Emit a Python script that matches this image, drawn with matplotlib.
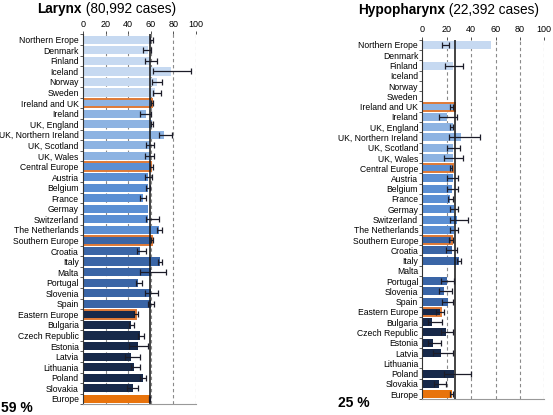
import matplotlib
matplotlib.use("Agg")
import matplotlib.pyplot as plt
import numpy as np

plt.rcParams["font.family"] = ["Liberation Sans", "DejaVu Sans"]

nan = np.nan

countries = [
    "Northern Erope", "Denmark", "Finland", "Iceland", "Norway", "Sweden",
    "Ireland and UK", "Ireland", "UK, England", "UK, Northern Ireland",
    "UK, Scotland", "UK, Wales",
    "Central Europe", "Austria", "Belgium", "France", "Germay",
    "Switzerland", "The Netherlands",
    "Southern Europe", "Croatia", "Italy", "Malta", "Portugal", "Slovenia", "Spain",
    "Eastern Europe", "Bulgaria", "Czech Republic", "Estonia", "Latvia",
    "Lithuania", "Poland", "Slovakia",
    "Europe",
]
# 0 north, 1 ireland/uk, 2 central, 3 south, 4 east, 5 europe
group = [0] * 6 + [1] * 6 + [2] * 7 + [3] * 7 + [4] * 8 + [5]
is_region = ["Europe" in c or c == "Ireland and UK" for c in countries]

# Larynx: survival (%), lower and upper CI
lar_val = [60.5, 58, 59, 78, 66, 64,
           61, 55.5, 61.5, 72, 59, 59,
           60.5, 58, 57.5, 53, 57.5, 58, 67.5,
           61.5, 51, 68, 60, 49, 60, 60,
           47, 42.5, 50.5, 49, 43, 45, 53, 44,
           59]
lar_lo = [59, 53, 55, 62, 61, 62,
          60, 51, 60.5, 67, 56, 55,
          59.5, 55, 55.5, 50.5, nan, 56, 66,
          60.5, 48, 66.5, 51, 47, 55, 57.5,
          45.5, 41, 48.5, 41, 37, 42.5, 51, 39,
          58.5]
lar_hi = [62, 60, 66, 96, 70, 69,
          62.5, 60, 62.5, 79, 63, 63,
          62, 61, 59, 55.5, nan, 67, 70,
          62.5, 55.5, 70, 74, 52, 66.5, 63,
          48.5, 45.5, 54, 58, 51, 50.5, 56, 48.5,
          59.5]

# Hypopharynx
hyp_val = [56, nan, 25, nan, nan, nan,
           26.5, 20, 25, 32, 25, 25,
           25.5, 25, 24, 22.5, 26, 28.5, 26,
           24, 24, 30, nan, 20, 18, 21,
           15, 8, 19.5, 8.5, 15.5, nan, 26, 13.5,
           24]
hyp_lo = [16, nan, 18.5, nan, nan, nan,
          23, 14, 23, 22, 20.5, 18,
          22.5, 20.5, 20.5, 21, 23, 22.5, 23,
          21.5, 19.5, 28.5, nan, 15, 14, 16.5,
          11.5, 4.5, 15, 4.5, 9, nan, 18, 9.5,
          22.5]
hyp_hi = [22, nan, 33.5, nan, nan, nan,
          25.5, 28.5, 25.5, 47, 30.5, 33.5,
          24.5, 29, 29, 25, 29, 37.5, 29,
          25, 28.5, 32, nan, 26, 24, 25.5,
          18, 16, 25.5, 15.5, 25.5, nan, 40, 19.5,
          25.5]

panels = [
    ("Larynx", "(80,992 cases)", "59 %", 59, lar_val, lar_lo, lar_hi),
    ("Hypopharynx", "(22,392 cases)", "25 %", 26.5, hyp_val, hyp_lo, hyp_hi),
]

group_colors = ["#c6d9f1", "#8db3e2", "#5b8fd3", "#3a65a6", "#17294a", "#e8730c"]
edge_orange = "#e07a36"

fig = plt.figure(figsize=(5.53, 4.15), dpi=100)
axes_pos = [[0.150, 0.026, 0.204, 0.891], [0.7637, 0.038, 0.2206, 0.866]]
title_pos = [(0.067, 0.996), (0.647, 0.993)]
pct_pos = [(0.002, 0.0), (0.612, 0.012)]

for k, (name, cases, pct, line_x, vals, lo, hi) in enumerate(panels):
    ax = fig.add_axes(axes_pos[k])
    y = np.arange(len(countries))
    vals = np.array(vals, dtype=float)
    lo = np.array(lo, dtype=float)
    hi = np.array(hi, dtype=float)

    colors = [group_colors[g] for g in group]
    edges = [edge_orange if r and g != 5 else "none" for r, g in zip(is_region, group)]
    ax.barh(y, np.nan_to_num(vals), height=0.78, color=colors,
            edgecolor=edges, linewidth=1.4, zorder=2)

    ok = ~np.isnan(lo)
    ax.errorbar((lo[ok] + hi[ok]) / 2, y[ok], xerr=(hi[ok] - lo[ok]) / 2,
                fmt="none", ecolor="#1c1c28", elinewidth=0.9, capsize=2.0,
                capthick=0.9, zorder=4)
    ax.axvline(line_x, color="#111111", lw=1.1, zorder=3)

    for gx in [20, 40, 60, 80, 100]:
        ax.axvline(gx, color="#8a8a8a", lw=0.8, ls=(0, (3, 2.5)), zorder=1)

    ax.set_xlim(0, 100)
    ax.set_ylim(len(countries) - 0.5, -0.5)
    ax.set_xticks([0, 20, 40, 60, 80, 100])
    ax.xaxis.tick_top()
    ax.tick_params(axis="x", top=True, bottom=False, labelsize=6.5, length=2.5,
                   width=0.6, pad=1.5, colors="#333333", labelcolor="black")
    ax.set_yticks(y)
    ax.set_yticklabels(countries)
    ax.tick_params(axis="y", which="major", length=0, labelsize=6.2, pad=3)
    ax.set_yticks(np.arange(len(countries) + 1) - 0.5, minor=True)
    ax.tick_params(axis="y", which="minor", length=2.5, width=0.6, color="#444444")

    for s in ["top", "right"]:
        ax.spines[s].set_visible(False)
    ax.spines["left"].set_color("#333333")
    ax.spines["left"].set_linewidth(0.8)
    ax.spines["bottom"].set_color("#999999")
    ax.spines["bottom"].set_linewidth(0.8)

    # title: bold name followed by normal case count
    t1 = fig.text(title_pos[k][0], title_pos[k][1], name, fontsize=9.8,
                  fontweight="bold", va="top", ha="left")
    ax.annotate(" " + cases, xy=(1, 0), xycoords=t1, fontsize=9.8,
                va="bottom", ha="left", annotation_clip=False)

    fig.text(pct_pos[k][0], pct_pos[k][1], pct, fontsize=10,
             fontweight="bold", va="bottom", ha="left")

fig.savefig("out.png", dpi=100)
